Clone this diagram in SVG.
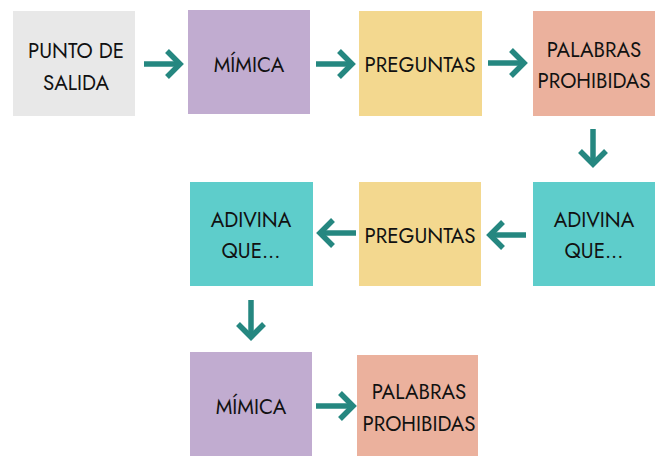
<svg xmlns="http://www.w3.org/2000/svg" width="667" height="456" viewBox="0 0 667 456">
<style>
.t{font-family:"Jost","Lato","Noto Sans",sans-serif;font-size:20.5px;fill:#111111;text-anchor:middle}
.c{fill:none;stroke:#258780;stroke-width:5.5;stroke-linecap:butt}
.grey{fill:#e8e8e8}.purple{fill:#c1acd0}.yellow{fill:#f3d88f}.salmon{fill:#ebb19d}.teal{fill:#5ecdcb}
</style>
<defs>
<marker id="ah" markerUnits="userSpaceOnUse" viewBox="-16 -16 20 32" refX="0" refY="0" markerWidth="20" markerHeight="32" orient="auto">
<path d="M-13,-13 L0,0 L-13,13" fill="none" stroke="#258780" stroke-width="5.5" stroke-linejoin="miter"/>
</marker>
</defs>
<rect width="667" height="456" fill="#ffffff"/>
<g id="n1"><rect class="grey" x="13" y="11" width="122" height="105"/><text class="t" x="76" y="58">PUNTO DE</text><text class="t" x="76" y="90">SALIDA</text></g>
<g id="n2"><rect class="purple" x="188" y="10" width="122" height="104"/><text class="t" x="249" y="72">MÍMICA</text></g>
<g id="n3"><rect class="yellow" x="359" y="11" width="123" height="105"/><text class="t" x="420" y="72">PREGUNTAS</text></g>
<g id="n4"><rect class="salmon" x="533" y="11" width="122" height="105"/><text class="t" x="594" y="57">PALABRAS</text><text class="t" x="594" y="88">PROHIBIDAS</text></g>
<g id="n5"><rect class="teal" x="533" y="182" width="122" height="104"/><text class="t" x="594" y="227">ADIVINA</text><text class="t" x="594" y="258">QUE...</text></g>
<g id="n6"><rect class="yellow" x="359" y="182" width="122" height="104"/><text class="t" x="420" y="243">PREGUNTAS</text></g>
<g id="n7"><rect class="teal" x="190" y="182" width="123" height="104"/><text class="t" x="251" y="227">ADIVINA</text><text class="t" x="251" y="258">QUE...</text></g>
<g id="n8"><rect class="purple" x="190" y="352" width="122" height="110"/><text class="t" x="251" y="414">MÍMICA</text></g>
<g id="n9"><rect class="salmon" x="357" y="355" width="121" height="105"/><text class="t" x="419" y="399">PALABRAS</text><text class="t" x="419" y="431">PROHIBIDAS</text></g>
<g id="connectors">
<path class="c" d="M144,64 L180,64" marker-end="url(#ah)"/>
<path class="c" d="M316,64 L352,64" marker-end="url(#ah)"/>
<path class="c" d="M488,63 L524,63" marker-end="url(#ah)"/>
<path class="c" d="M593,129 L593,164" marker-end="url(#ah)"/>
<path class="c" d="M526,235 L490,235" marker-end="url(#ah)"/>
<path class="c" d="M356,233 L320,233" marker-end="url(#ah)"/>
<path class="c" d="M251,300 L251,337" marker-end="url(#ah)"/>
<path class="c" d="M316,406 L353,406" marker-end="url(#ah)"/>
</g>
</svg>
